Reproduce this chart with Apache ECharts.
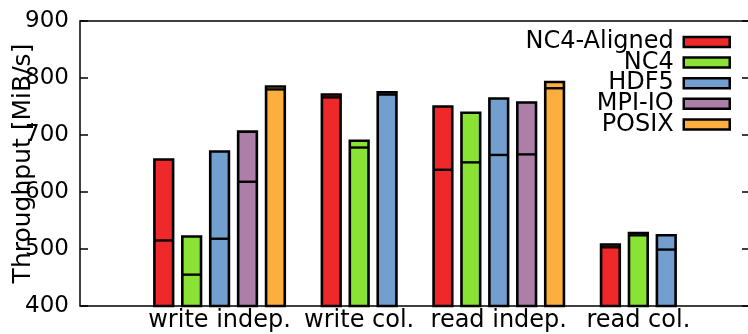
<!DOCTYPE html>
<html>
<head>
<meta charset="utf-8">
<script src="https://cdn.jsdelivr.net/npm/echarts@6/dist/echarts.min.js"></script>
<style>
  html, body { margin: 0; padding: 0; background: #fff; }
  #chart { width: 748px; height: 334px; }
</style>
</head>
<body>
<div id="chart"></div>
<script>
// Throughput per I/O library and access pattern (MiB/s).
// Each bar shows the upper value; the inner line marks the lower value.
const categories = ['write indep.', 'write col.', 'read indep.', 'read col.'];
const yTicks = [400, 500, 600, 700, 800, 900];

const libraries = ['NC4-Aligned', 'NC4', 'HDF5', 'MPI-IO', 'POSIX'];
const nc4AlignedMax = [657, 771, 750, 508];
const nc4AlignedMin = [515, 766, 639, 503];
const nc4Max = [522, 690, 739, 528];
const nc4Min = [455, 678, 652, 524];
const hdf5Max = [671, 775, 764, 524];
const hdf5Min = [518, 771, 665, 499];
const mpiioMax = [706, null, 757, null];
const mpiioMin = [618, null, 666, null];
const posixMax = [785, null, 793, null];
const posixMin = [780, null, 782, null];

const colors = ['#ef2929', '#8ae234', '#729fcf', '#ad7fa8', '#fcaf3e'];
const maxSets = [nc4AlignedMax, nc4Max, hdf5Max, mpiioMax, posixMax];
const minSets = [nc4AlignedMin, nc4Min, hdf5Min, mpiioMin, posixMin];

const FONT = 'DejaVu Sans';
const Y_MIN = yTicks[0], Y_MAX = yTicks[yTicks.length - 1];

function renderBar(params, api) {
  const cat = api.value(0);
  const hi = api.value(1);
  const lo = api.value(2);
  // bars of one group are centred on the category, using only libraries with data there
  const present = [];
  maxSets.forEach((arr, i) => { if (arr[cat] != null) present.push(i); });
  const n = present.length;
  const k = present.indexOf(params.seriesIndex);
  const unit = api.size([1, 0])[0];
  const step = unit * 0.2;
  const w = unit * 0.134;
  const cx = api.coord([cat, Y_MIN])[0] + (k - (n - 1) / 2) * step;
  const yb = api.coord([cat, Y_MIN])[1];
  const yt = api.coord([cat, hi])[1];
  const ym = api.coord([cat, lo])[1];
  const fill = colors[params.seriesIndex];
  return {
    type: 'group',
    children: [
      { type: 'rect', shape: { x: cx - w / 2, y: yt, width: w, height: yb - yt },
        style: { fill: fill, stroke: '#000', lineWidth: 2.6 } },
      { type: 'line', shape: { x1: cx - w / 2, y1: ym, x2: cx + w / 2, y2: ym },
        style: { stroke: '#000', lineWidth: 2.4 } }
    ]
  };
}

const series = libraries.map((name, s) => ({
  name: name,
  type: 'custom',
  renderItem: renderBar,
  clip: false,
  itemStyle: { color: colors[s], borderColor: '#000', borderWidth: 2.5 },
  encode: { x: 0, y: [1, 2] },
  data: categories
    .map((c, i) => [i, maxSets[s][i], minSets[s][i]])
    .filter(d => d[1] != null)
}));

const chart = echarts.init(document.getElementById('chart'), null, { renderer: 'canvas' });
chart.setOption({
  animation: false,
  backgroundColor: '#fff',
  textStyle: { fontFamily: FONT },
  grid: {
    left: 80, right: -2, top: 21, bottom: 28,
    outerBoundsMode: 'none',
    containLabel: false,
    show: true, borderColor: '#000', borderWidth: 1.5, backgroundColor: 'transparent'
  },
  legend: {
    orient: 'vertical',
    right: 12,
    top: 25,
    align: 'right',
    itemWidth: 46,
    itemHeight: 10,
    itemGap: -3.4,
    selectedMode: false,
    icon: 'rect',
    itemStyle: { borderColor: '#000', borderWidth: 2.5 },
    textStyle: { fontFamily: FONT, fontSize: 24, color: '#000', lineHeight: 21, padding: [0, 5, 0, 0] },
    data: libraries
  },
  xAxis: {
    type: 'value',
    min: -1,
    max: 3.8,
    interval: 1,
    splitLine: { show: false },
    axisLine: { show: false, onZero: false },
    axisTick: { show: false },
    axisLabel: {
      fontFamily: FONT, fontSize: 24, color: '#000', margin: 3,
      showMinLabel: true, showMaxLabel: true,
      formatter: v => (Number.isInteger(v) && v >= 0 && v < categories.length) ? categories[v] : ''
    }
  },
  yAxis: [
    {
      type: 'value',
      min: Y_MIN, max: Y_MAX, interval: 100,
      name: 'Throughput [MiB/s]',
      nameLocation: 'middle',
      nameGap: 44,
      nameMoveOverlap: false,
      nameTextStyle: { fontFamily: FONT, fontSize: 25, color: '#000' },
      splitLine: { show: false },
      axisLine: { show: false, onZero: false },
      axisTick: { show: true, inside: true, length: 8, lineStyle: { color: '#000', width: 1.5 } },
      axisLabel: { fontFamily: FONT, fontSize: 23, color: '#000', margin: 11 }
    },
    {
      type: 'value',
      position: 'right',
      min: Y_MIN, max: Y_MAX, interval: 100,
      splitLine: { show: false },
      axisLine: { show: false, onZero: false },
      axisTick: { show: true, inside: true, length: 8, lineStyle: { color: '#000', width: 1.5 } },
      axisLabel: { show: false }
    }
  ],
  series: series
});
</script>
</body>
</html>
